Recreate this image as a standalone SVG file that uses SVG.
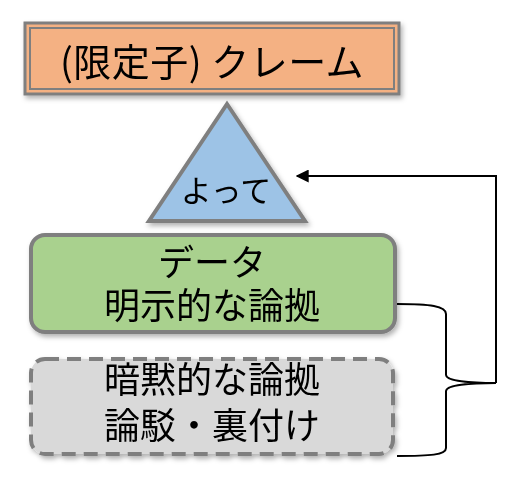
<svg xmlns="http://www.w3.org/2000/svg" width="519" height="481" viewBox="0 0 519 481">
<style>
.t{font-family:"Noto Sans CJK JP","Noto Sans CJK SC",sans-serif;fill:#000;text-anchor:middle}
.ln{fill:none;stroke:#000;stroke-width:2}
</style>
<defs>
<filter id="sh" x="-10%" y="-10%" width="125%" height="130%">
<feDropShadow dx="2" dy="3" stdDeviation="2.5" flood-color="#000" flood-opacity="0.3"/>
</filter>
<marker id="ah" viewBox="0 0 10 10" refX="9" refY="5" markerWidth="13" markerHeight="13" markerUnits="userSpaceOnUse" orient="auto">
<path d="M0,0 L10,5 L0,10 Z" fill="#000"/>
</marker>
</defs>
<rect width="519" height="481" fill="#fff"/>
<g id="claim" filter="url(#sh)">
<rect x="25" y="23" width="374" height="71" fill="#F4B183" stroke="#7f7f7f" stroke-width="3"/>
<rect x="30" y="28" width="364" height="61" fill="none" stroke="#7f7f7f" stroke-width="2"/>
<text class="t" x="212" y="76" font-size="38" letter-spacing="0.5">(限定子) クレーム</text>
</g>
<g id="so" filter="url(#sh)">
<polygon points="227,104 149,221 305,221" fill="#9DC3E6" stroke="#7f7f7f" stroke-width="4" stroke-linejoin="miter"/>
<text class="t" x="226" y="202" font-size="31">よって</text>
</g>
<g id="data" filter="url(#sh)">
<rect x="31" y="235" width="364" height="97" rx="14" fill="#A9D18E" stroke="#7f7f7f" stroke-width="4"/>
<text class="t" x="212" y="276" font-size="36">データ</text>
<text class="t" x="212" y="319" font-size="36">明示的な論拠</text>
</g>
<g id="implicit" filter="url(#sh)">
<rect x="31" y="359" width="362" height="95" rx="14" fill="#D9D9D9" stroke="#7f7f7f" stroke-width="4" stroke-dasharray="14,8"/>
<text class="t" x="212" y="393" font-size="36">暗黙的な論拠</text>
<text class="t" x="212" y="439" font-size="36">論駁・裏付け</text>
</g>
<g id="connectors">
<path class="ln" d="M397,304 C430,304 446,306 446,314 L446,375 C446,381 470,383 496,383 C470,383 446,385 446,391 L446,448 C446,455 430,456 397,456"/>
<path class="ln" d="M496,383 L496,176 L297,176" marker-end="url(#ah)"/>
</g>
</svg>
